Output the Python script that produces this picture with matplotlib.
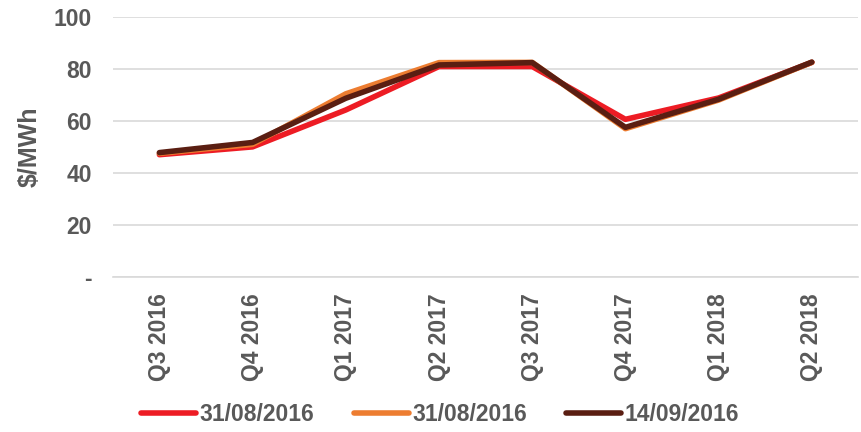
import matplotlib.pyplot as plt

# dados
quarters = ['Q3 2016', 'Q4 2016', 'Q1 2017', 'Q2 2017', 'Q3 2017', 'Q4 2017', 'Q1 2018', 'Q2 2018']
s_red = [47.0, 50.0, 64.2, 80.9, 80.9, 60.6, 68.8, 82.5]
s_orange = [47.5, 51.0, 70.4, 82.4, 82.5, 57.0, 68.0, 82.5]
s_dark = [47.8, 51.7, 68.7, 81.5, 82.4, 57.5, 68.3, 82.6]
labels = ['31/08/2016', '31/08/2016', '14/09/2016']
yticks = [0, 20, 40, 60, 80, 100]
ytick_labels = ['-', '20', '40', '60', '80', '100']

plt.rcParams['font.family'] = ['Liberation Sans', 'DejaVu Sans']
plt.rcParams['font.weight'] = 'bold'
gray = '#595959'

fig = plt.figure(figsize=(8.61, 4.32), dpi=100)
ax = fig.add_axes([0.131, 0.359, 0.866, 0.602])

x = range(len(quarters))
ax.plot(x, s_red, color='#ED1C24', lw=4, label=labels[0], solid_capstyle='round')
ax.plot(x, s_orange, color='#ED7D31', lw=4, label=labels[1], solid_capstyle='round')
ax.plot(x, s_dark, color='#5A1E12', lw=4, label=labels[2], solid_capstyle='round')

ax.set_xlim(-0.5, len(quarters) - 0.5)
ax.set_ylim(0, 100)
ax.set_yticks(yticks)
ax.set_yticklabels(ytick_labels)
ax.set_xticks(list(x))
ax.set_xticklabels(quarters, rotation=90)
ax.grid(axis='y', color='#D9D9D9', lw=1.2)
ax.set_axisbelow(True)
for s in ['top', 'right', 'left']:
    ax.spines[s].set_visible(False)
ax.spines['bottom'].set_color('#D9D9D9')
ax.spines['bottom'].set_linewidth(1.2)
ax.tick_params(axis='both', length=0, labelsize=16.5, labelcolor=gray)
ax.tick_params(axis='x', pad=11.5)
ax.tick_params(axis='y', pad=15)
ax.set_ylabel('$/MWh', fontsize=18, color=gray, fontweight='bold')
ax.yaxis.set_label_coords(-0.095, 0.5)

leg = fig.legend(loc='center', bbox_to_anchor=(0.511, 0.04), ncol=3, frameon=False,
                 fontsize=16.5, handlelength=2.4, handletextpad=0.15, columnspacing=1.7)
for t in leg.get_texts():
    t.set_color(gray)

fig.savefig('out.png', dpi=100)
